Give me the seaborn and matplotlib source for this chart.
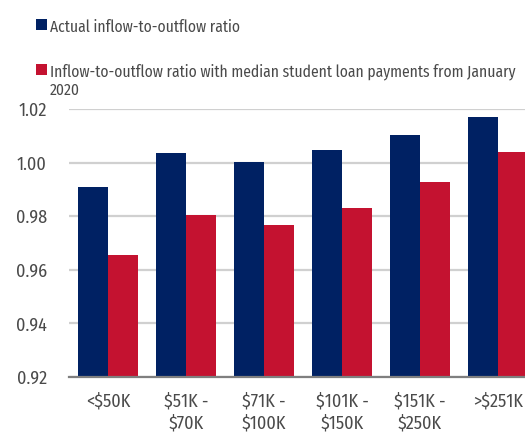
import matplotlib
matplotlib.use("Agg")
import matplotlib.pyplot as plt
from matplotlib.patches import Patch
import seaborn as sns
import pandas as pd

# Income brackets and inflow-to-outflow ratios
categories = ["<$50K", "$51K -\n$70K", "$71K -\n$100K", "$101K -\n$150K",
              "$151K -\n$250K", ">$251K"]
actual_ratio = [0.991, 1.0035, 1.0003, 1.0047, 1.0103, 1.0171]
with_loans_ratio = [0.9655, 0.9805, 0.9767, 0.983, 0.9929, 1.0041]
series_names = ["Actual inflow-to-outflow ratio",
                "Inflow-to-outflow ratio with median student loan payments from January\n2020"]
y_ticks = [0.92, 0.94, 0.96, 0.98, 1.00, 1.02]

navy = "#002163"
crimson = "#C41230"
text_color = "#4a4a4a"

sns.set_theme(style="white")
plt.rcParams["font.family"] = ["Fira Sans Condensed", "DejaVu Sans"]

df = pd.DataFrame({
    "bracket": categories * 2,
    "ratio": actual_ratio + with_loans_ratio,
    "series": [series_names[0]] * len(categories) + [series_names[1]] * len(categories),
})

fig = plt.figure(figsize=(5.25, 4.32), dpi=100)
ax = fig.add_axes([69 / 525, 55 / 432, 468 / 525, 268 / 432])

sns.barplot(data=df, x="bracket", y="ratio", hue="series",
            palette=[navy, crimson], width=0.78, gap=0, saturation=1,
            linewidth=0, ax=ax, legend=False)

ax.set_ylim(0.92, 1.02)
ax.set_xlim(-0.5, len(categories) - 0.5)
ax.set_yticks(y_ticks)
ax.set_yticklabels([f"{v:.2f}" for v in y_ticks])
ax.set_xlabel("")
ax.set_ylabel("")
ax.yaxis.grid(True, color="#d0d0d0", linewidth=1.6)
ax.set_axisbelow(True)
for side in ["top", "right", "left"]:
    ax.spines[side].set_visible(False)
ax.spines["bottom"].set_color("#7f7f7f")
ax.spines["bottom"].set_linewidth(1.6)
ax.spines["bottom"].set_zorder(5)
ax.tick_params(axis="both", length=0, labelsize=13, colors=text_color)
ax.tick_params(axis="y", pad=16)
ax.tick_params(axis="x", pad=11)
for lbl in ax.get_xticklabels():
    lbl.set_linespacing(1.3)

handles = [Patch(facecolor=navy, edgecolor="none"),
           Patch(facecolor=crimson, edgecolor="none")]
leg = fig.legend(handles, series_names, loc="upper left",
                 bbox_to_anchor=(36 / 525, 1 - 19 / 432),
                 frameon=False, fontsize=11.2, labelcolor=text_color,
                 handlelength=0.7, handleheight=0.7, handletextpad=0.2,
                 labelspacing=1.85, borderaxespad=0, borderpad=0)
for text in leg.get_texts():
    text.set_linespacing(1.2)
# keep each swatch level with the first line of its label
for column in leg._legend_handle_box.get_children():
    for item in column.get_children():
        item.align = "top"

fig.savefig("out.png", dpi=100)
